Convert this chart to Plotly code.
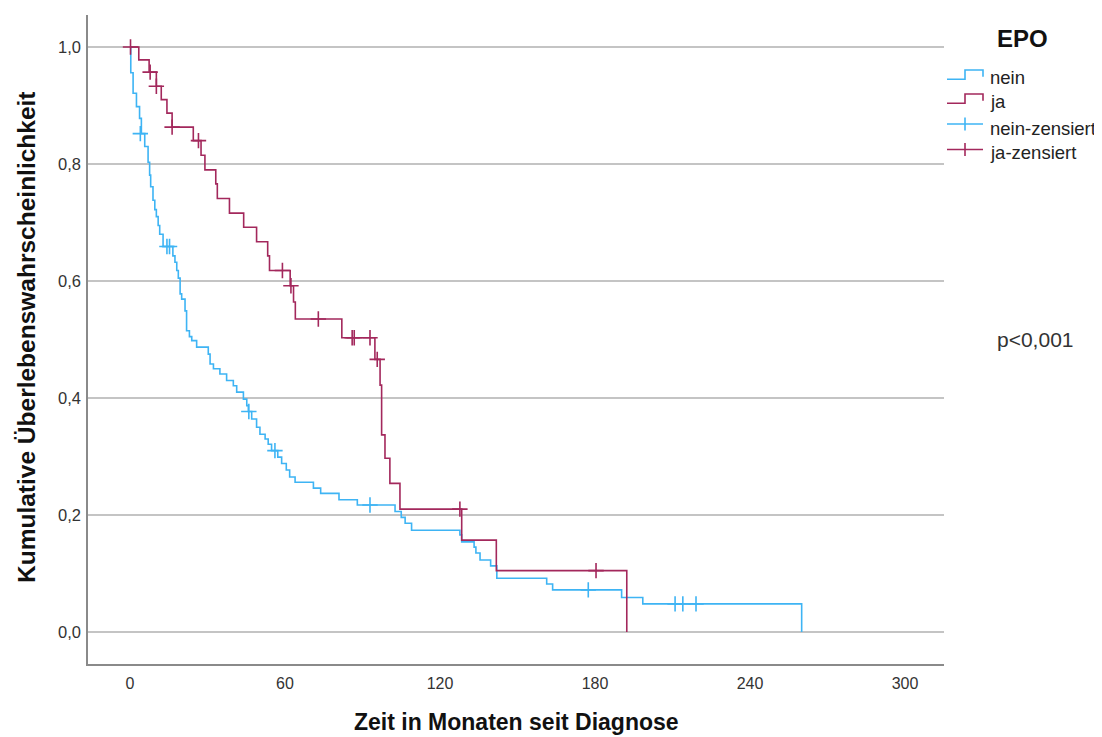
import plotly.graph_objects as go

# ---------------- data ----------------
nein_time = [0, 0.3, 1.2, 2.5, 3.7, 4.4, 5.7, 7.0, 7.6, 8.0, 8.9, 9.6, 10.2, 10.9, 11.5, 12.8,
             16.6, 17.4, 18.1, 18.7, 19.4, 20.0, 21.3, 21.9, 23.0, 23.9, 25.8, 30.3, 31.0, 32.3,
             34.8, 37.4, 40.0, 41.3, 43.9, 45.2, 45.8, 47.1, 49.0, 50.3, 52.3, 53.5, 54.8, 57.2,
             58.7, 60.5, 61.8, 63.9, 71.0, 73.8, 80.9, 88.0, 102.6, 105.0, 106.5, 109.0, 127.7,
             128.4, 133.2, 133.9, 135.5, 139.6, 142.0, 161.3, 163.6, 190.3, 198.5, 260.0]
nein_surv = [1.0, 0.956, 0.921, 0.898, 0.878, 0.852, 0.830, 0.803, 0.781, 0.761, 0.738, 0.722, 0.710, 0.695, 0.680, 0.659,
             0.643, 0.632, 0.618, 0.605, 0.578, 0.569, 0.549, 0.515, 0.505, 0.498, 0.487, 0.475, 0.458, 0.450,
             0.441, 0.430, 0.421, 0.410, 0.398, 0.387, 0.377, 0.364, 0.350, 0.338, 0.330, 0.321, 0.310, 0.299,
             0.288, 0.277, 0.265, 0.256, 0.246, 0.237, 0.226, 0.217, 0.206, 0.196, 0.186, 0.174, 0.166,
             0.154, 0.145, 0.135, 0.123, 0.113, 0.092, 0.082, 0.072, 0.059, 0.048, 0.0]

ja_time = [0, 3.4, 7.4, 10.2, 12.1, 14.3, 16.3, 24.5, 27.5, 29.0, 33.2, 33.8, 38.5, 44.0, 49.0, 53.3,
           54.0, 62.0, 63.3, 64.0, 82.0, 94.8, 96.8, 97.4, 98.7, 100.6, 104.5, 128.4, 141.8, 192.3]
ja_surv = [1.0, 0.978, 0.957, 0.933, 0.910, 0.887, 0.863, 0.840, 0.815, 0.790, 0.766, 0.741, 0.716, 0.692, 0.667, 0.643,
           0.618, 0.592, 0.564, 0.535, 0.503, 0.466, 0.422, 0.337, 0.297, 0.254, 0.210, 0.157, 0.105, 0.0]

nein_cens_time = [4.0, 14.3, 15.3, 46.0, 56.1, 92.9, 177.4, 211.0, 214.0, 219.1]
nein_cens_surv = [0.852, 0.659, 0.659, 0.377, 0.310, 0.217, 0.072, 0.048, 0.048, 0.048]

ja_cens_time = [0.2, 7.8, 10.2, 16.3, 26.5, 59.0, 62.3, 72.9, 86.0, 86.8, 92.9, 95.7, 127.7, 180.4]
ja_cens_surv = [1.0, 0.957, 0.933, 0.863, 0.840, 0.618, 0.592, 0.535, 0.503, 0.503, 0.503, 0.466, 0.210, 0.105]

x_ticks = [0, 60, 120, 180, 240, 300]
y_ticks = [0.0, 0.2, 0.4, 0.6, 0.8, 1.0]

legend_title = "EPO"
legend_labels = ["nein", "ja", "nein-zensiert", "ja-zensiert"]
x_title = "Zeit in Monaten seit Diagnose"
y_title = "Kumulative Überlebenswahrscheinlichkeit"
p_text = "p<0,001"

# ---------------- style ----------------
BLUE = "#3EB4F4"
RED = "#A3285C"
GRID = "#C4C4C4"
AXIS = "#8A8A8A"
FONT = "Liberation Sans, Arial, sans-serif"

OFF = 8                      # page body margin of the rendered html
W, H = 1102 - OFF, 737 - OFF
# plot area in screen pixels (reference coordinates)
L, R, T, B = 88, 944, 15, 664


def px(xp):
    return (xp - L) / (R - L)


def py(yp):
    return (B - yp) / (B - T)


fig = go.Figure()

fig.add_trace(go.Scatter(x=nein_time, y=nein_surv, mode="lines", line=dict(color=BLUE, width=1.6, shape="hv"),
                         showlegend=False, name=legend_labels[0]))
fig.add_trace(go.Scatter(x=ja_time, y=ja_surv, mode="lines", line=dict(color=RED, width=1.6, shape="hv"),
                         showlegend=False, name=legend_labels[1]))
fig.add_trace(go.Scatter(x=nein_cens_time, y=nein_cens_surv, mode="markers",
                         marker=dict(symbol="cross-thin", size=11, line=dict(color=BLUE, width=1.6)),
                         showlegend=False, name=legend_labels[2]))
fig.add_trace(go.Scatter(x=ja_cens_time, y=ja_cens_surv, mode="markers",
                         marker=dict(symbol="cross-thin", size=11, line=dict(color=RED, width=1.6)),
                         showlegend=False, name=legend_labels[3]))

# x range from pixel calibration: 0 at px 130, 300 at px 905
xs = (905 - 130) / 300.0
x0 = (L - 130) / xs
x1 = (R - 130) / xs
# y: 0 at 632, 1 at 47
ys = (632 - 47)
y0 = (632 - B) / ys
y1 = (632 - T) / ys

fig.update_xaxes(range=[x0, x1], tickvals=x_ticks, showgrid=False, zeroline=False,
                 showline=True, linecolor=AXIS, linewidth=1.5, ticks="",
                 tickfont=dict(family=FONT, size=16, color="#333333"), ticklabelstandoff=4)
fig.update_yaxes(range=[y0, y1], tickvals=y_ticks, tickformat=".1f", showgrid=True, gridcolor=GRID,
                 gridwidth=1.5, zeroline=False, showline=True, linecolor=AXIS, linewidth=1.5, ticks="",
                 tickfont=dict(family=FONT, size=16.5, color="#333333"), ticklabelstandoff=2)

annotations = [
    dict(text=x_title, x=px(516), y=py(722), xref="paper", yref="paper", showarrow=False,
         font=dict(family=FONT, size=23, color="#111111", weight="bold"), xanchor="center", yanchor="middle"),
    dict(text=y_title, x=px(26), y=py(337), xref="paper", yref="paper", showarrow=False, textangle=-90,
         font=dict(family=FONT, size=24.5, color="#111111", weight="bold"), xanchor="center", yanchor="middle"),
    dict(text=p_text, x=px(995), y=py(339), xref="paper", yref="paper", showarrow=False,
         font=dict(family=FONT, size=21, color="#333333"), xanchor="left", yanchor="middle"),
    dict(text=legend_title, x=px(1022), y=py(39), xref="paper", yref="paper", showarrow=False,
         font=dict(family=FONT, size=24, color="#111111", weight="bold"), xanchor="center", yanchor="middle"),
]
leg_y = [77, 101.5, 128, 152.5]
for lab, yy in zip(legend_labels, leg_y):
    annotations.append(dict(text=lab, x=px(988), y=py(yy), xref="paper", yref="paper", showarrow=False,
                            font=dict(family=FONT, size=18.5, color="#222222"), xanchor="left", yanchor="middle"))

shapes = []
# step icons
for col, low, high in [(BLUE, 79.3, 70), (RED, 103.3, 94)]:
    path = (f"M {px(947)},{py(low)} L {px(965)},{py(low)} L {px(965)},{py(high)} "
            f"L {px(983)},{py(high)} L {px(983)},{py(low - 2.5)}")
    shapes.append(dict(type="path", path=path, xref="paper", yref="paper", line=dict(color=col, width=1.6)))
# censor icons
for col, yy in [(BLUE, 124), (RED, 149.5)]:
    shapes.append(dict(type="line", x0=px(947), x1=px(983), y0=py(yy), y1=py(yy), xref="paper", yref="paper",
                       line=dict(color=col, width=1.6)))
    shapes.append(dict(type="line", x0=px(965), x1=px(965), y0=py(yy - 6.5), y1=py(yy + 6.5), xref="paper",
                       yref="paper", line=dict(color=col, width=1.6)))

fig.update_layout(width=W, height=H,
                  margin=dict(l=L - OFF, r=W - (R - OFF), t=T - OFF, b=H - (B - OFF)),
                  plot_bgcolor="white", paper_bgcolor="white", separators=",.",
                  annotations=annotations, shapes=shapes, showlegend=False,
                  font=dict(family=FONT))

fig.write_html("out.html")
